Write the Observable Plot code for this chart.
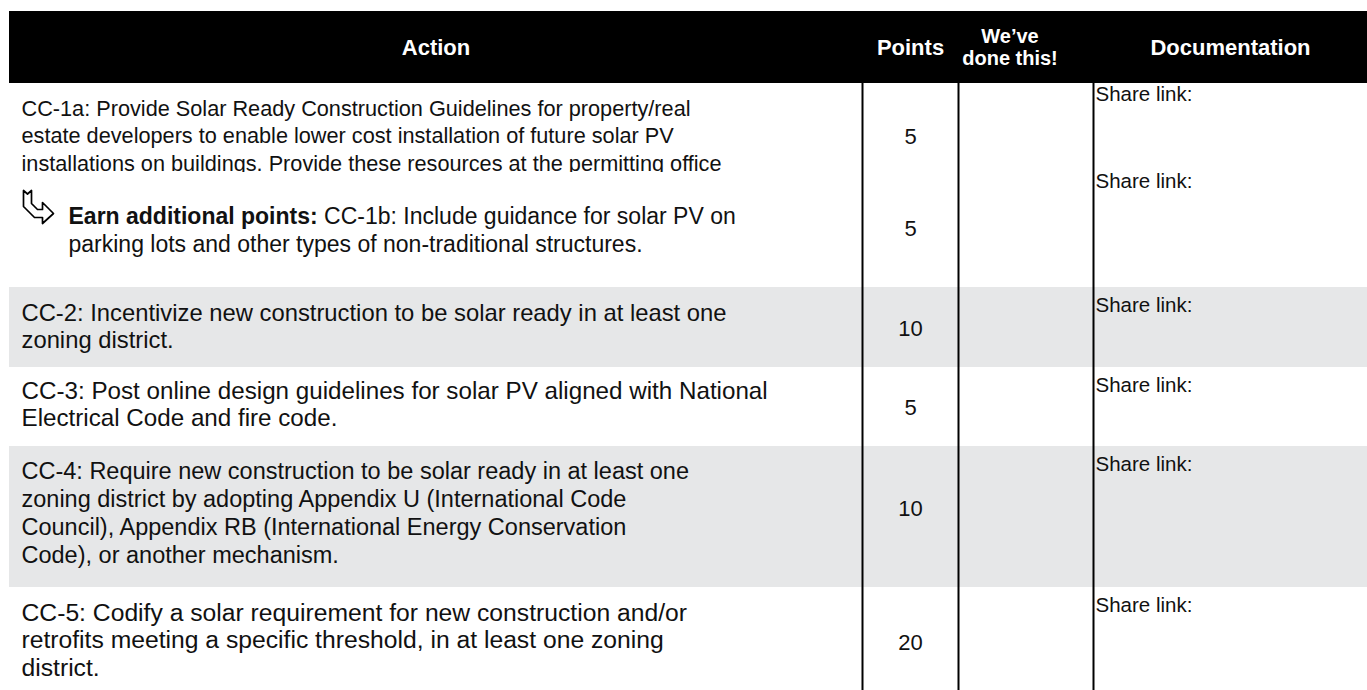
<!DOCTYPE html>
<html><head><meta charset="utf-8">
<script src="https://cdn.jsdelivr.net/npm/d3@7"></script>
<script src="https://cdn.jsdelivr.net/npm/@observablehq/plot@0.6"></script>
<style>html,body{margin:0;padding:0;background:#fff;}</style>
</head><body><div id="chart"></div>
<script>
// ---------- DATA ----------
const headers = ["Action", "Points", "We’ve\ndone this!", "Documentation"];
const actionTexts = [
  "CC-1a: Provide Solar Ready Construction Guidelines for property/real\nestate developers to enable lower cost installation of future solar PV\ninstallations on buildings. Provide these resources at the permitting office",
  "CC-1b: Include guidance for solar PV on\nparking lots and other types of non-traditional structures.",
  "CC-2: Incentivize new construction to be solar ready in at least one\nzoning district.",
  "CC-3: Post online design guidelines for solar PV aligned with National\nElectrical Code and fire code.",
  "CC-4: Require new construction to be solar ready in at least one\nzoning district by adopting Appendix U (International Code\nCouncil), Appendix RB (International Energy Conservation\nCode), or another mechanism.",
  "CC-5: Codify a solar requirement for new construction and/or\nretrofits meeting a specific threshold, in at least one zoning\ndistrict."
];
const points = [5, 5, 10, 5, 10, 20];
const docLabels = ["Share link:", "Share link:", "Share link:", "Share link:", "Share link:", "Share link:"];
const additionalLabel = "Earn additional points:";
// outline of the "continue" arrow icon (icon-local units)
const arrowIconShape = [[0,0],[4,3.5],[8,0],[8,13],[14,19],[19,19],[19,12],[30,23],[19,33],[19,27],[11,27],[0,16],[0,0]];

// ---------- LAYOUT ----------
const W = 1367, H = 690;
const FONT = "Liberation Sans, Arial, Helvetica, sans-serif";
const colEdges = [9, 862, 958, 1093, W];
const headerTop = 11, headerBottom = 83;
const rowHeights = [89, 115, 80, 79, 141, 113];
const shaded = [false, false, true, false, true, false];
const bodySize = [21.7, 23, 23.8, 24.2, 23.5, 24.7];
const lineSteps = [28, 28, 28, 28, 28.3, 28];
const textX = 21, indentX = 68, docX = 1095;
const firstBaseOffset = [32, 51, 33, 31, 32, 33];   // baseline of first text line below row top
const docBaseOffset = [17, 15, 24, 24, 24, 24];
const pointsOffset = [53, 56, 41, 40, 62, 55];      // centre of number below row top

const tops = [];
{ let t = headerBottom; for (const h of rowHeights) { tops.push(t); t += h; } }
const rows = actionTexts.map((text, i) => ({
  i, text, top: tops[i], bottom: tops[i] + rowHeights[i], shaded: shaded[i],
  size: bodySize[i], step: lineSteps[i], points: points[i], doc: docLabels[i],
  base: tops[i] + firstBaseOffset[i]
}));

const ctx = document.createElement("canvas").getContext("2d");
ctx.font = `bold ${bodySize[1]}px Liberation Sans`;
const boldW = ctx.measureText(additionalLabel + " ").width;

const r1b = rows[1];
const r1bLines = r1b.text.split("\n");
const plain = rows.filter(r => r.i !== 1);
const colCenter = k => (colEdges[k] + colEdges[k + 1]) / 2;
const multiText = (r) => Plot.text([r], {
  x: () => textX, y: d => d.base - 0.71 * d.step, text: "text", textAnchor: "start", lineAnchor: "top",
  fontSize: r.size, lineHeight: r.step / r.size, fill: "#111"
});

const chart = Plot.plot({
  width: W, height: H, margin: 0,
  x: {domain: [0, W], range: [0, W], axis: null},
  y: {domain: [0, H], range: [0, H], axis: null},
  style: {fontFamily: FONT, background: "#fff"},
  marks: [
    Plot.rect([{}], {x1: () => colEdges[0], x2: () => W, y1: () => headerTop, y2: () => headerBottom, fill: "#000"}),
    Plot.rect(rows.filter(r => r.shaded), {x1: () => colEdges[0], x2: () => W, y1: "top", y2: "bottom", fill: "#e6e7e8"}),
    // first cell; its overflow is hidden by the next cell's background
    multiText(rows[0]),
    Plot.rect([r1b], {x1: () => colEdges[0], x2: () => colEdges[1], y1: "top", y2: "bottom", fill: "#fff"}),
    ...plain.filter(r => r.i !== 0).map(multiText),
    // CC-1b with arrow and bold lead-in
    Plot.line(arrowIconShape, {x: d => 23 + d[0], y: d => r1b.top + 18 + d[1], stroke: "#000", strokeWidth: 1.7, fill: "none", curve: "linear"}),
    Plot.text([r1b], {x: () => indentX, y: r => r.base, text: () => additionalLabel, fontWeight: "bold",
      textAnchor: "start", lineAnchor: "bottom", fontSize: r1b.size, fill: "#111"}),
    Plot.text([r1b], {x: () => indentX, dx: boldW, y: r => r.base, text: () => r1bLines[0],
      textAnchor: "start", lineAnchor: "bottom", fontSize: r1b.size, fill: "#111"}),
    Plot.text([r1b], {x: () => indentX, y: r => r.base + r.step, text: () => r1bLines.slice(1).join("\n"),
      textAnchor: "start", lineAnchor: "bottom", fontSize: r1b.size, fill: "#111"}),
    // points
    Plot.text(rows, {x: () => colCenter(1), y: r => r.top + pointsOffset[r.i], text: "points", fontSize: 22, fill: "#111", lineAnchor: "middle"}),
    // documentation
    Plot.text(rows, {x: () => docX, y: r => r.top + docBaseOffset[r.i], text: "doc", textAnchor: "start",
      lineAnchor: "bottom", fontSize: 20.5, fill: "#111"}),
    // column rules
    Plot.ruleX(colEdges.slice(1, 4), {y1: () => headerBottom, y2: () => H, stroke: "#000", strokeWidth: 2}),
    // headers
    Plot.text(headers.filter((h, k) => k !== 2), {
      x: h => colCenter(headers.indexOf(h)), y: () => (headerTop + headerBottom) / 2, text: d => d,
      fill: "#fff", fontWeight: "bold", fontSize: 22, lineAnchor: "middle"
    }),
    Plot.text([headers[2]], {
      x: () => colCenter(2) - 16, y: () => (headerTop + headerBottom) / 2 - 1, text: d => d,
      fill: "#fff", fontWeight: "bold", fontSize: 20, lineHeight: 1.1, lineAnchor: "middle", letterSpacing: "-0.8px"
    })
  ]
});
document.getElementById("chart").appendChild(chart);
</script>
</body></html>
